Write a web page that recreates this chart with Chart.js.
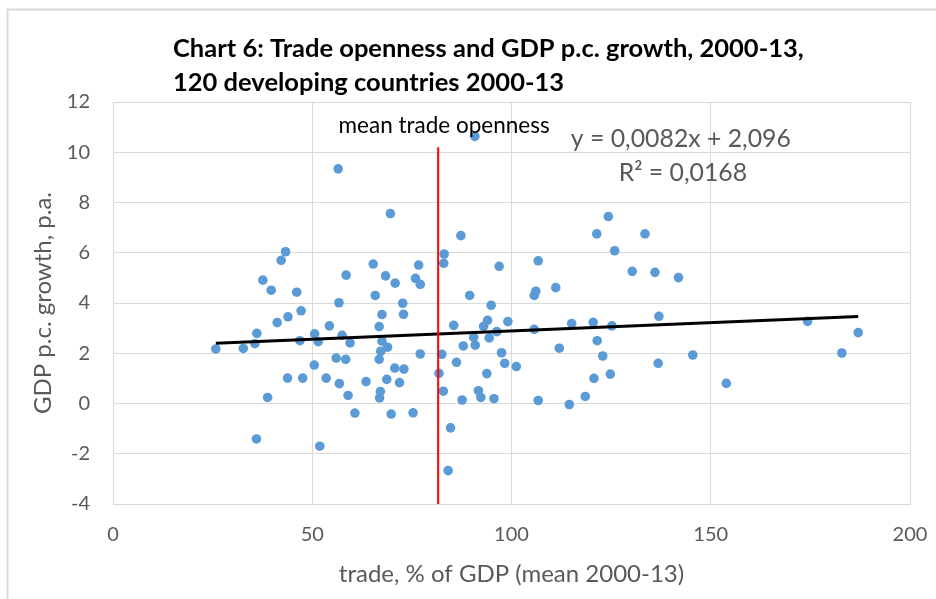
<!DOCTYPE html>
<html>
<head>
<meta charset="utf-8">
<script src="https://cdn.jsdelivr.net/npm/chart.js@4.4.1/dist/chart.umd.min.js"></script>
<style>
  html, body { margin: 0; padding: 0; background: #ffffff; }
  #wrap { width: 936px; height: 599px; position: relative; }
</style>
</head>
<body>
<div id="wrap"><canvas id="myChart" width="936" height="599"></canvas></div>
<script>
// Datos: apertura comercial (% del PIB) y crecimiento del PIB p.c.
var tradeOpenness = [
    43.3, 42.2, 37.6, 39.7, 46.1, 47.2, 43.9, 41.2, 36.1, 35.6,
    25.8, 32.7, 46.9, 50.6, 51.5, 54.3, 56.7, 58.5, 57.5, 59.5,
    56.0, 58.4, 50.5, 43.8, 47.6, 53.5, 56.8, 63.5, 59.0, 38.8,
    60.7, 36.0, 51.9, 65.3, 68.4, 70.8, 76.7, 75.9, 77.1, 65.8,
    72.7, 72.9, 67.5, 66.8, 67.5, 68.9, 67.2, 66.8, 77.1, 70.7,
    73.0, 68.7, 71.9, 67.1, 66.9, 69.8, 75.3, 56.5, 69.6,
    87.3, 83.1, 83.0, 96.9, 106.7, 89.5, 105.7, 106.1, 111.1, 94.9,
    94.0, 93.0, 85.5, 99.1, 96.3, 90.5, 94.4, 87.9, 90.9, 105.7,
    115.1, 120.5, 125.2, 137.0, 121.5, 112.0, 122.9, 136.8, 82.5, 81.8,
    86.2, 97.5, 98.3, 101.2, 93.8, 82.9, 91.7, 92.3, 87.6, 95.6,
    106.7, 114.5, 118.5, 120.7, 124.8, 84.7, 121.4, 133.5, 125.9, 130.3,
    136.0, 124.3, 90.8, 84.1,
    141.9, 145.5, 153.9, 174.3, 182.9, 187.0
];
var gdpGrowth = [
    6.04, 5.70, 4.91, 4.51, 4.43, 3.69, 3.45, 3.22, 2.79, 2.38,
    2.17, 2.19, 2.50, 2.77, 2.46, 3.09, 4.01, 5.11, 2.71, 2.41,
    1.81, 1.76, 1.53, 1.01, 1.01, 1.01, 0.79, 0.87, 0.32, 0.24,
    -0.38, -1.41, -1.70, 5.55, 5.08, 4.79, 5.51, 4.98, 4.74, 4.30,
    3.99, 3.55, 3.54, 3.06, 2.48, 2.24, 2.08, 1.76, 1.97, 1.41,
    1.37, 0.96, 0.83, 0.48, 0.22, -0.42, -0.37, 9.34, 7.56,
    6.68, 5.95, 5.58, 5.46, 5.68, 4.30, 4.30, 4.47, 4.61, 3.91,
    3.31, 3.07, 3.11, 3.26, 2.86, 2.63, 2.61, 2.29, 2.32, 2.95,
    3.18, 3.23, 3.09, 3.47, 2.50, 2.20, 1.89, 1.60, 1.96, 1.20,
    1.64, 2.02, 1.60, 1.47, 1.19, 0.49, 0.51, 0.24, 0.14, 0.19,
    0.12, -0.04, 0.28, 1.00, 1.17, -0.97, 6.75, 6.75, 6.08, 5.26,
    5.22, 7.44, 10.63, -2.67,
    5.01, 1.93, 0.80, 3.27, 2.01, 2.82
];

// Linea de tendencia: extremos
var trendX = [25.8, 187.0];
var trendY = [2.40, 3.46];
// Linea vertical: apertura comercial media
var meanTrade = 81.6;
var meanLineY = [-4, 10.2];

var xTicks = [0, 50, 100, 150, 200];
var yTicks = [-4, -2, 0, 2, 4, 6, 8, 10, 12];

var titleLines = [
    'Chart 6: Trade openness and GDP p.c. growth, 2000-13,',
    '120 developing countries 2000-13'
];
var xAxisTitle = 'trade, % of GDP (mean 2000-13)';
var yAxisTitle = 'GDP p.c. growth, p.a.';
var eqLines = ['y = 0,0082x + 2,096', 'R\u00b2 = 0,0168'];
var meanLabel = 'mean trade openness';

// Construir los puntos
var points = tradeOpenness.map(function(x, i) {
    return {x: x, y: gdpGrowth[i]};
});
var trendPoints = trendX.map(function(x, i) {
    return {x: x, y: trendY[i]};
});
var meanPoints = meanLineY.map(function(y) {
    return {x: meanTrade, y: y};
});

var FONT = 'Lato';
var GREY = '#595959';
var GRID = '#d9d9d9';

// Textos y borde extra
var extrasPlugin = {
    id: 'extras',
    beforeDraw: function(chart) {
        var ctx = chart.ctx;
        ctx.save();
        ctx.strokeStyle = GRID;
        ctx.lineWidth = 2;
        ctx.beginPath();
        ctx.moveTo(7.5, 599);
        ctx.lineTo(7.5, 9.5);
        ctx.lineTo(936, 9.5);
        ctx.stroke();
        ctx.restore();
    },
    afterDatasetsDraw: function(chart) {
        var ctx = chart.ctx;
        var xs = chart.scales.x;
        var ys = chart.scales.y;
        ctx.save();
        // titulo
        ctx.fillStyle = '#000000';
        ctx.font = 'bold 25.5px ' + FONT;
        ctx.textAlign = 'left';
        ctx.textBaseline = 'alphabetic';
        ctx.fillText(titleLines[0], 173, 57);
        ctx.fillText(titleLines[1], 173, 91);
        // etiqueta de la media
        ctx.font = '22.5px ' + FONT;
        ctx.textAlign = 'center';
        ctx.fillText(meanLabel, xs.getPixelForValue(83.1), ys.getPixelForValue(10.78));
        // ecuacion
        ctx.fillStyle = GREY;
        ctx.font = '24.8px ' + FONT;
        ctx.fillText(eqLines[0], xs.getPixelForValue(142.5), ys.getPixelForValue(10.22));
        ctx.fillText(eqLines[1], xs.getPixelForValue(143), ys.getPixelForValue(8.85));
        ctx.restore();
    }
};

var ctx = document.getElementById('myChart').getContext('2d');
var myChart = new Chart(ctx, {
    type: 'scatter',
    data: {
        datasets: [{
            label: 'paises',
            data: points,
            backgroundColor: '#5B9BD5',
            borderWidth: 0,
            pointRadius: 4.8,
            order: 2
        }, {
            label: 'tendencia',
            type: 'line',
            data: trendPoints,
            borderColor: '#000000',
            borderWidth: 3,
            pointRadius: 0,
            fill: false,
            order: 1
        }, {
            label: 'media',
            type: 'line',
            data: meanPoints,
            borderColor: '#FF0000',
            borderWidth: 2,
            pointRadius: 0,
            fill: false,
            order: 0
        }]
    },
    options: {
        responsive: false,
        animation: false,
        layout: {
            padding: {top: 102, right: 26, left: 0, bottom: 0}
        },
        plugins: {
            legend: {display: false},
            tooltip: {enabled: false}
        },
        scales: {
            x: {
                type: 'linear',
                min: xTicks[0],
                max: xTicks[xTicks.length - 1],
                afterBuildTicks: function(scale) {
                    scale.ticks = xTicks.map(function(v) { return {value: v}; });
                },
                afterFit: function(scale) {
                    scale.height = 95;
                    scale.paddingLeft = 0;
                    scale.paddingRight = 0;
                },
                grid: {color: GRID, lineWidth: 1, drawTicks: false},
                border: {color: GRID, width: 1},
                ticks: {
                    padding: 19,
                    color: GREY,
                    font: {family: FONT, size: 20}
                },
                title: {
                    display: true,
                    text: xAxisTitle,
                    color: GREY,
                    font: {family: FONT, size: 24},
                    padding: {top: 0, bottom: 10}
                }
            },
            y: {
                type: 'linear',
                min: yTicks[0],
                max: yTicks[yTicks.length - 1],
                afterBuildTicks: function(scale) {
                    scale.ticks = yTicks.map(function(v) { return {value: v}; });
                },
                afterFit: function(scale) {
                    scale.width = 113;
                    scale.paddingTop = 0;
                    scale.paddingBottom = 0;
                },
                grid: {color: GRID, lineWidth: 1, drawTicks: false},
                border: {color: GRID, width: 1},
                ticks: {
                    padding: 23,
                    color: GREY,
                    font: {family: FONT, size: 20}
                },
                title: {
                    display: true,
                    text: yAxisTitle,
                    color: GREY,
                    font: {family: FONT, size: 24},
                    padding: {top: 29, bottom: 0}
                }
            }
        }
    },
    plugins: [extrasPlugin]
});
</script>
</body>
</html>
